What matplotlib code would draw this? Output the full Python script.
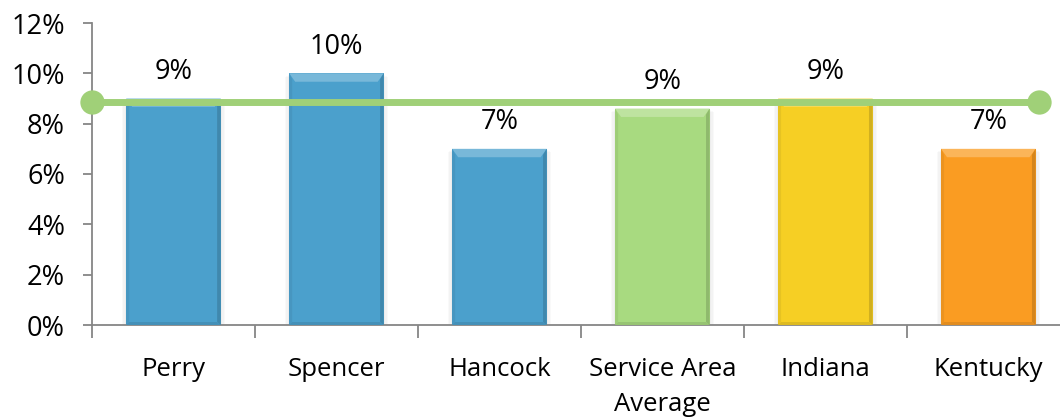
import matplotlib.pyplot as plt
from matplotlib.patches import Polygon
from matplotlib.colors import to_rgb
import numpy as np

categories = ['Perry', 'Spencer', 'Hancock', 'Service Area\nAverage', 'Indiana', 'Kentucky']
values = [9.0, 10.0, 7.0, 8.6, 9.0, 7.0]
labels = ['9%', '10%', '7%', '9%', '9%', '7%']
bar_colors = ['#4ba0cc', '#4ba0cc', '#4ba0cc', '#a8da80', '#f6cf24', '#fa9c22']

avg_value = 8.85
avg_x = [-0.5, 5.31]

plt.rcParams['font.family'] = ['Open Sans', 'DejaVu Sans']

fig = plt.figure(figsize=(10.6, 4.18), dpi=100)
ax = fig.add_axes([92 / 1060, 1 - 325 / 418, 1 - 92 / 1060, (325 - 23) / 418])

x = np.arange(len(categories))
ax.set_xlim(-0.5, 5.44)
ax.set_ylim(0, 12)

bars = ax.bar(x, values, width=0.58, color=bar_colors, zorder=2)


def shade(c, f):
    r, g, b = to_rgb(c)
    if f > 0:
        return (r + (1 - r) * f, g + (1 - g) * f, b + (1 - b) * f)
    return (r * (1 + f), g * (1 + f), b * (1 + f))


# bevel edges: size in pixels converted to data units
fig.canvas.draw()
inv = ax.transData.inverted()
p0 = inv.transform((0, 0))
p1 = inv.transform((6, 6))
bx, by = p1[0] - p0[0], p1[1] - p0[1]

for rect, c in zip(bars, bar_colors):
    x0, w, h = rect.get_x(), rect.get_width(), rect.get_height()
    x1 = x0 + w
    top = Polygon([(x0, h), (x1, h), (x1 - bx, h - by * 1.4), (x0 + bx, h - by * 1.4)],
                  closed=True, color=shade(c, 0.25), lw=0, zorder=3)
    left = Polygon([(x0, h), (x0 + bx * 0.5, h - by), (x0 + bx * 0.5, by * 0.5), (x0, 0)],
                   closed=True, color=shade(c, -0.06), lw=0, zorder=3)
    right = Polygon([(x1, h), (x1 - bx * 0.6, h - by), (x1 - bx * 0.6, by * 0.5), (x1, 0)],
                    closed=True, color=shade(c, -0.15), lw=0, zorder=3)
    bottom = Polygon([(x0, 0), (x1, 0), (x1 - bx * 0.6, by * 0.5), (x0 + bx * 0.5, by * 0.5)],
                     closed=True, color=shade(c, -0.1), lw=0, zorder=3)
    for p in (top, left, right, bottom):
        ax.add_patch(p)
    # soft shadow around the bar
    for k in range(1, 4):
        ax.add_patch(plt.Rectangle((x0 - bx * 0.25 * k, -by * 0.2 * k), w + bx * 0.5 * k, h,
                                   color='#000000', alpha=0.025, lw=0, zorder=1.5))

for xi, v, lab in zip(x, values, labels):
    ax.annotate(lab, (xi, v), xytext=(0, 9), textcoords='offset points',
                ha='center', va='bottom', fontsize=19.5, color='#000000')

ax.plot(avg_x, [avg_value, avg_value], color='#a0d078', lw=5, marker='o',
        markersize=17.5, markeredgewidth=0, zorder=5, clip_on=False,
        solid_capstyle='butt')

for s in ['top', 'right']:
    ax.spines[s].set_visible(False)
for s in ['left', 'bottom']:
    ax.spines[s].set_color('#868686')
    ax.spines[s].set_linewidth(1.3)

ax.set_yticks(np.arange(0, 13, 2))
ax.set_yticklabels([f'{t}%' for t in range(0, 13, 2)])
ax.tick_params(axis='y', length=6.5, width=1.3, color='#868686', labelsize=19.5, pad=13)

ax.set_xticks(x)
ax.set_xticklabels(categories, linespacing=1.55)
ax.set_xticks(np.arange(-0.5, 5.5, 1), minor=True)
ax.tick_params(axis='x', which='major', length=0, labelsize=18.5, pad=23)
ax.tick_params(axis='x', which='minor', length=9, width=1.3, color='#868686')
for t in ax.get_xticklabels():
    t.set_verticalalignment('top')

fig.savefig('out.png', dpi=100)
